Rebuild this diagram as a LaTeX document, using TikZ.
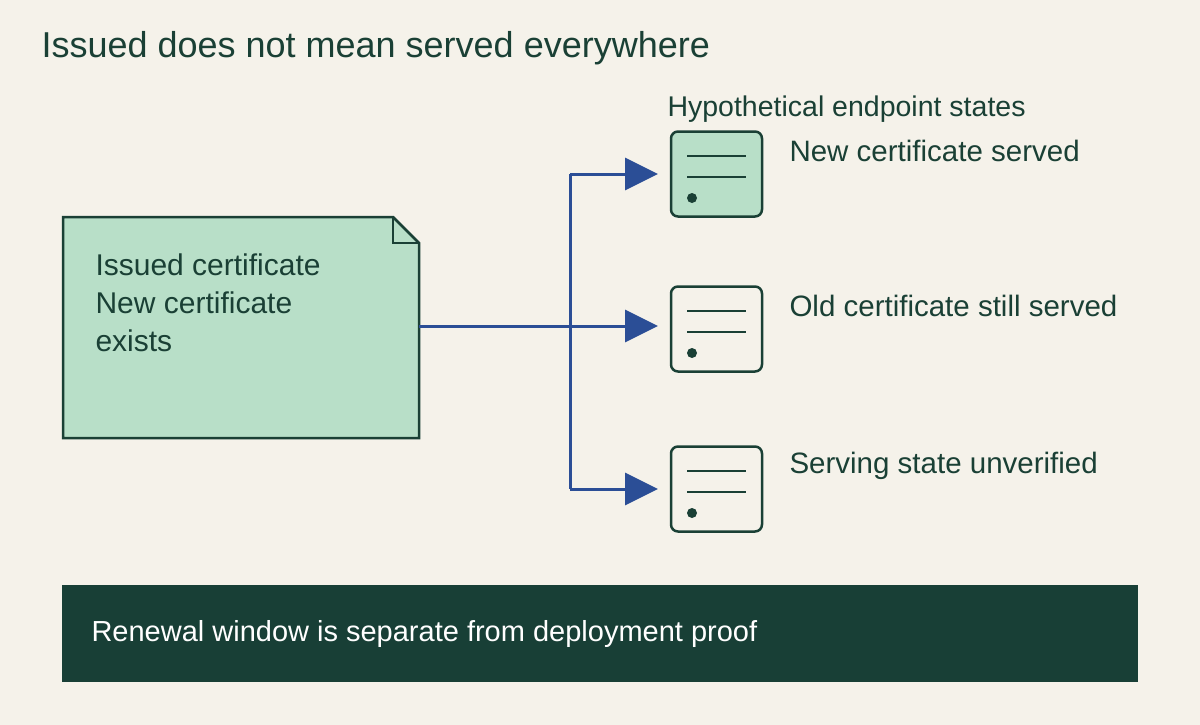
\documentclass[tikz,border=0pt]{standalone}
\usepackage{fontspec}
\setmainfont{Liberation Sans}
\usetikzlibrary{arrows.meta}
\definecolor{bg}{HTML}{F5F2EA}
\definecolor{mint}{HTML}{B8DFC8}
\definecolor{dk}{HTML}{1A4035}
\definecolor{bar}{HTML}{183F36}
\definecolor{blu}{HTML}{2B4E96}
\begin{document}
\begin{tikzpicture}[x=1pt,y=-1pt,
  lbl/.style={anchor=west,text=dk,font=\fontsize{29.5}{34}\selectfont},
  icon/.style={draw=dk,line width=2.5pt,rounded corners=7pt,minimum width=91pt,minimum height=85pt},
  conn/.style={draw=blu,line width=3pt,-{Triangle[length=33pt,width=32pt]}}]
\useasboundingbox[fill=bg] (0,0) rectangle (1200,725);
\node[anchor=west,text=dk,font=\fontsize{36}{40}\selectfont] (title) at (38,48) {Issued does not mean served everywhere};
\draw[fill=mint,draw=dk,line width=2.5pt] (63,217) -- (393,217) -- (419,243) -- (419,438) -- (63,438) -- cycle;
\draw[draw=dk,line width=2.5pt] (393,217) -- (393,243) -- (419,243);
\coordinate (docR) at (419,326);
\node[anchor=north west,align=left,text=dk,font=\fontsize{30}{38}\selectfont] (doc) at (92,250) {Issued certificate\\New certificate\\exists};
\node[lbl,font=\fontsize{28.5}{34}\selectfont] (hdr) at (664,109) {Hypothetical endpoint states};
\foreach \n/\y/\f/\t in {a/174/mint/New certificate served,b/329/bg/Old certificate still served,c/489/bg/Serving state unverified}{
  \node[icon,fill=\f] (\n) at (716.5,\y) {};
  \draw[dk,line width=2.5pt] (687,\y-18) -- (746,\y-18) (687,\y+3) -- (746,\y+3);
  \fill[dk] (692,\y+24) circle (5pt);
  \node[lbl] (\n l) at (786,\y-23) {\t};
}
\coordinate (j) at (570,326);
\coordinate (ja) at (570,174);
\coordinate (jc) at (570,489);
\draw[blu,line width=3pt] (docR) -- (j);
\draw[blu,line width=3pt] (ja) -- (jc);
\coordinate (ta) at (658,174);
\coordinate (tb) at (658,326);
\coordinate (tc) at (658,489);
\draw[conn] (ja) -- (ta);
\draw[conn] (j) -- (tb);
\draw[conn] (jc) -- (tc);
\fill[bar] (62,585) rectangle (1138,682);
\node[anchor=west,text=white,font=\fontsize{29}{34}\selectfont] (foot) at (88,634) {Renewal window is separate from deployment proof};
\end{tikzpicture}
\end{document}
